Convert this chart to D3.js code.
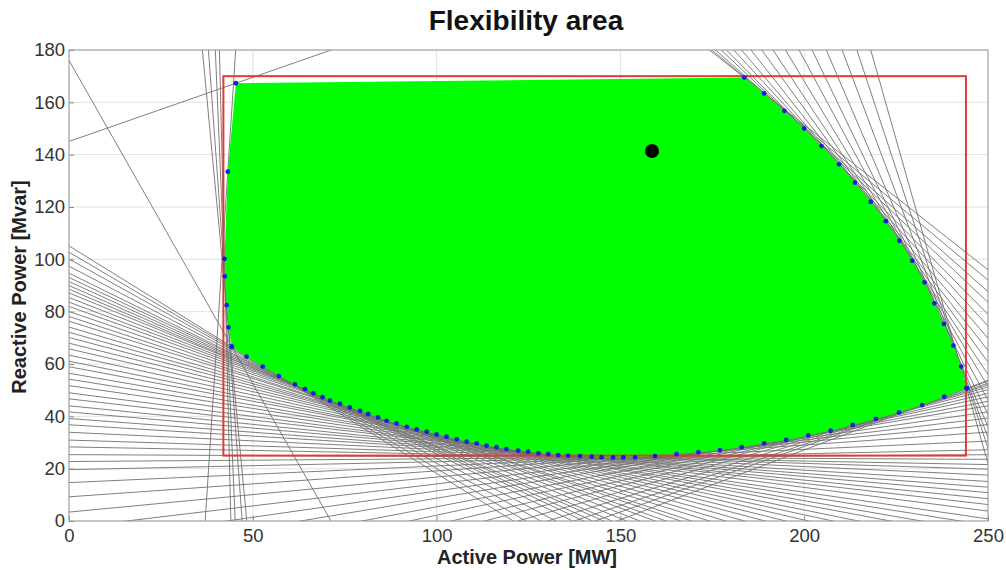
<!DOCTYPE html>
<html><head><meta charset="utf-8">
<script src="https://cdn.jsdelivr.net/npm/d3@7"></script>
<style>body{margin:0;background:#fff}svg{display:block}</style>
</head><body><svg id="c" width="1006" height="570"></svg>
<script>
// ---- data ----
const xTicks = [0, 50, 100, 150, 200, 250];
const yTicks = [0, 20, 40, 60, 80, 100, 120, 140, 160, 180];
const titleText = "Flexibility area";
const xLabel = "Active Power [MW]";
const yLabel = "Reactive Power [Mvar]";

// red limit box (P range, Q range)
const boxP = [42, 244];
const boxQ = [25, 170];

// operating point
const opP = [158.6];
const opQ = [141.4];

// boundary dots: left edge (bottom -> top)
const leftEdgeP = [44.3, 43.4, 42.9, 42.4, 42.3, 43.2, 45.4];
const leftEdgeQ = [66.6, 74.0, 82.5, 93.5, 100.2, 133.5, 167.3];
// right arc (top -> bottom)
const rightArcP = [183.7, 189.1, 194.6, 200.0, 204.7, 209.5, 213.8, 218.1, 222.2, 225.9, 229.4, 232.7, 235.4, 238.0, 240.6, 242.7, 244.2];
const rightArcQ = [169.5, 163.4, 156.7, 150.0, 143.3, 136.3, 129.3, 122.0, 114.6, 107.1, 99.5, 91.2, 83.2, 75.3, 67.0, 59.0, 50.7];
// bottom curve (left -> right)
const bottomP = [44.3, 48.3, 52.7, 57.1, 61.5, 64.2, 66.5, 69.0, 71.0, 73.7, 76.4, 79.2, 81.4, 84.1, 86.4, 89.1, 91.9, 94.6, 97.3, 100.0, 102.7, 105.5, 108.2, 110.9, 113.6, 116.3, 119.0, 122.2, 124.9, 127.7, 130.4, 133.1, 135.8, 139.0, 142.2, 144.9, 148.0, 150.8, 154.0, 159.4, 165.3, 171.2, 177.1, 183.0, 189.1, 195.1, 201.1, 207.2, 213.2, 219.5, 225.8, 232.1, 238.1, 244.2];
const bottomQ = [66.6, 62.8, 59.0, 55.4, 52.2, 50.4, 48.8, 47.3, 46.0, 44.8, 43.4, 42.1, 40.9, 39.6, 38.3, 37.3, 36.0, 35.0, 34.1, 33.1, 32.2, 31.2, 30.3, 29.7, 28.8, 28.2, 27.5, 26.9, 26.5, 25.9, 25.6, 25.2, 25.0, 24.8, 24.6, 24.4, 24.3, 24.3, 24.3, 24.8, 25.6, 26.3, 27.1, 28.2, 29.7, 31.0, 32.7, 34.5, 36.7, 39.0, 41.5, 44.3, 47.5, 50.7];
// corner cuts (point + slope)
const cornerP = [44.3, 45.4];
const cornerQ = [66.6, 167.3];
const cornerSlope = [-2.47, 0.49];

// ---- layout ----
const svg = d3.select("#c");
const X0 = 69, X1 = 988, Y0 = 521, Y1 = 50;
const x = d3.scaleLinear().domain([0, 250]).range([X0, X1]);
const y = d3.scaleLinear().domain([0, 180]).range([Y0, Y1]);
const FONT = "'Liberation Sans', Arial, Helvetica, sans-serif";

svg.append("rect").attr("width", 1006).attr("height", 570).attr("fill", "#fff");

// grid
const grid = svg.append("g");
grid.selectAll("line.gx").data(xTicks).join("line")
  .attr("x1", d => x(d)).attr("x2", d => x(d)).attr("y1", Y0).attr("y2", Y1)
  .attr("stroke", "#e2e2e2").attr("stroke-width", 1);
grid.selectAll("line.gy").data(yTicks).join("line")
  .attr("y1", d => y(d)).attr("y2", d => y(d)).attr("x1", X0).attr("x2", X1)
  .attr("stroke", "#e2e2e2").attr("stroke-width", 1);

svg.append("clipPath").attr("id", "plot").append("rect")
  .attr("x", X0).attr("y", Y1).attr("width", X1 - X0).attr("height", Y0 - Y1);

// least-squares polynomial fit -> smooth tangent slopes at each boundary dot
function polyfit(xs, ys, deg, c, s) {
  const n = deg + 1, A = [], b = [];
  for (let r = 0; r < n; r++) { A.push(new Array(n).fill(0)); b.push(0); }
  xs.forEach((xv, k) => {
    const t = (xv - c) / s;
    for (let r = 0; r < n; r++) {
      b[r] += ys[k] * Math.pow(t, r);
      for (let q = 0; q < n; q++) A[r][q] += Math.pow(t, r + q);
    }
  });
  for (let i = 0; i < n; i++) {
    let m = i;
    for (let r = i + 1; r < n; r++) if (Math.abs(A[r][i]) > Math.abs(A[m][i])) m = r;
    [A[i], A[m]] = [A[m], A[i]]; [b[i], b[m]] = [b[m], b[i]];
    for (let r = i + 1; r < n; r++) {
      const f = A[r][i] / A[i][i];
      for (let q = i; q < n; q++) A[r][q] -= f * A[i][q];
      b[r] -= f * b[i];
    }
  }
  const co = new Array(n).fill(0);
  for (let i = n - 1; i >= 0; i--) {
    let sum = b[i];
    for (let q = i + 1; q < n; q++) sum -= A[i][q] * co[q];
    co[i] = sum / A[i][i];
  }
  return xv => { // derivative
    const t = (xv - c) / s; let d = 0;
    for (let r = 1; r < n; r++) d += r * co[r] * Math.pow(t, r - 1);
    return d / s;
  };
}
function lineThrough(p, q, dp, dq) {
  const L = Math.hypot(dp, dq); dp /= L; dq /= L;
  return [p - 500 * dp, q - 500 * dq, p + 500 * dp, q + 500 * dq];
}
const cuts = [];
// bottom family: Q as function of P
const dBottom = polyfit(bottomP, bottomQ, 4, 145, 100);
bottomP.forEach((p, i) => cuts.push(lineThrough(p, bottomQ[i], 1, dBottom(p))));
// right arc family: P as function of Q
const dRight = polyfit(rightArcQ, rightArcP, 3, 110, 60);
rightArcQ.forEach((q, i) => cuts.push(lineThrough(rightArcP[i], q, dRight(q), 1)));
// left edge family: P as function of Q (interior dots)
const dLeft = polyfit(leftEdgeQ, leftEdgeP, 2, 110, 50);
leftEdgeQ.forEach((q, i) => {
  if (i === 0 || i === leftEdgeQ.length - 1) return;
  cuts.push(lineThrough(leftEdgeP[i], q, dLeft(q), 1));
});
cornerP.forEach((p, i) => cuts.push(lineThrough(p, cornerQ[i], 1, cornerSlope[i])));

svg.append("g").attr("clip-path", "url(#plot)")
  .selectAll("line").data(cuts).join("line")
  .attr("x1", d => x(d[0])).attr("y1", d => y(d[1]))
  .attr("x2", d => x(d[2])).attr("y2", d => y(d[3]))
  .attr("stroke", "#707070").attr("stroke-width", 0.9);

// green feasible region
const poly = [];
leftEdgeP.forEach((p, i) => poly.push([p, leftEdgeQ[i]]));
rightArcP.forEach((p, i) => poly.push([p, rightArcQ[i]]));
for (let i = bottomP.length - 2; i > 0; i--) poly.push([bottomP[i], bottomQ[i]]);
svg.append("path")
  .attr("d", d3.line().x(d => x(d[0])).y(d => y(d[1]))(poly) + "Z")
  .attr("fill", "#00ff00").attr("stroke", "none");

// red box
svg.append("rect")
  .attr("x", x(boxP[0])).attr("y", y(boxQ[1]))
  .attr("width", x(boxP[1]) - x(boxP[0])).attr("height", y(boxQ[0]) - y(boxQ[1]))
  .attr("fill", "none").attr("stroke", "#e23a34").attr("stroke-width", 2);

// blue dots
const dots = [];
leftEdgeP.forEach((p, i) => dots.push([p, leftEdgeQ[i]]));
rightArcP.forEach((p, i) => dots.push([p, rightArcQ[i]]));
bottomP.forEach((p, i) => dots.push([p, bottomQ[i]]));
svg.append("g").selectAll("circle").data(dots).join("circle")
  .attr("cx", d => x(d[0])).attr("cy", d => y(d[1])).attr("r", 2.4)
  .attr("fill", "#1020d8");

// operating point
svg.append("g").selectAll("circle").data(opP).join("circle")
  .attr("cx", d => x(d)).attr("cy", (d, i) => y(opQ[i])).attr("r", 7)
  .attr("fill", "#000");

// axes
const ax = svg.append("g").attr("transform", `translate(0,${Y0})`)
  .call(d3.axisBottom(x).tickValues(xTicks).tickSize(-5).tickPadding(8).tickFormat(d3.format("d")));
const ay = svg.append("g").attr("transform", `translate(${X0},0)`)
  .call(d3.axisLeft(y).tickValues(yTicks).tickSize(-5).tickPadding(4).tickFormat(d3.format("d")));
[ax, ay].forEach(g => {
  g.select(".domain").remove();
  g.selectAll(".tick line").attr("stroke", "#888");
  g.selectAll(".tick text").attr("fill", "#333").style("font-family", FONT).style("font-size", "18.5px");
});
svg.append("rect").attr("x", X0).attr("y", Y1).attr("width", X1 - X0).attr("height", Y0 - Y1)
  .attr("fill", "none").attr("stroke", "#9a9a9a").attr("stroke-width", 1);

// texts
svg.append("text").attr("x", 526).attr("y", 30).attr("text-anchor", "middle")
  .style("font-family", FONT).style("font-weight", "bold").style("font-size", "28px")
  .attr("fill", "#111").text(titleText);
svg.append("text").attr("x", 527).attr("y", 564).attr("text-anchor", "middle")
  .style("font-family", FONT).style("font-weight", "bold").style("font-size", "20px")
  .attr("fill", "#222").text(xLabel);
svg.append("text").attr("transform", "translate(26,287) rotate(-90)").attr("text-anchor", "middle")
  .style("font-family", FONT).style("font-weight", "bold").style("font-size", "20px")
  .attr("fill", "#222").text(yLabel);
</script></body></html>
